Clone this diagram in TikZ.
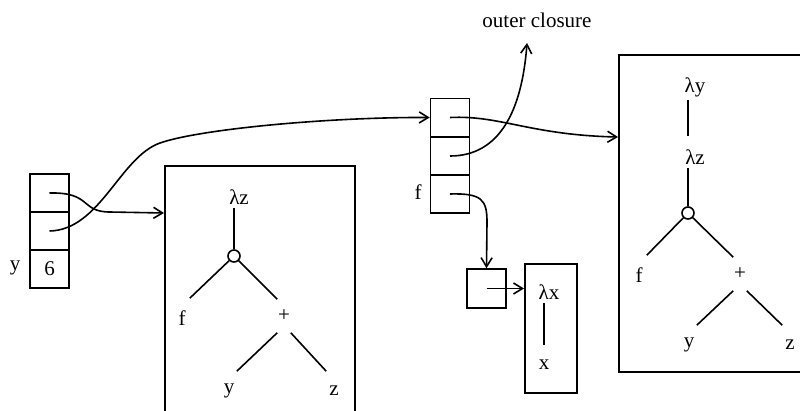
\documentclass[tikz,border=0pt]{standalone}
\usepackage{fontspec}
\setmainfont{Liberation Serif}
\usepackage{tikz}
\usetikzlibrary{arrows.meta}

\begin{document}
\begin{tikzpicture}[x=1pt,y=-1pt,line width=1.6pt,
    every node/.style={font=\fontsize{21}{25}\selectfont},
    >={Straight Barb[length=9pt,width=11pt]},
    cell/.style={draw,minimum width=39pt,minimum height=38pt,inner sep=0pt},
    frame/.style={draw,anchor=north west,inner sep=0pt},
    lab/.style={inner sep=3pt},
    leaf/.style={inner sep=0pt,minimum width=14pt,minimum height=38pt},
    plus/.style={inner sep=0pt,minimum width=12pt,minimum height=32pt},
    joint/.style={circle,draw,minimum size=12pt,inner sep=0pt}]
    \useasboundingbox (0,0) rectangle (800,410);
    \clip (0,0) rectangle (800,410);

    % Draw the records
    \node[cell] (ya) at (49.5,193) {};
    \node[cell] (yb) at (49.5,231) {};
    \node[cell] (yc) at (49.5,269) {6};
    \node (ylab) at (15,268) {y};

    \node[cell] (fa) at (450,117.5) {};
    \node[cell] (fb) at (450,156) {};
    \node[cell] (fc) at (450,194) {};
    \node (flab) at (418,192) {f};

    \node[cell,minimum height=39pt] (xcell) at (486.5,288.5) {};
    \node (outer) at (537,20) {outer closure};

    % Draw the code frames
    \node[frame,minimum width=190pt,minimum height=280pt] (zbox) at (164,165) {};
    \node[frame,minimum width=230pt,minimum height=317pt] (ybox) at (618,54) {};
    \node[frame,minimum width=52pt,minimum height=129pt] (xbox) at (524,263) {};

    \coordinate (zin) at (164,213);
    \coordinate (yin) at (618,137);
    \coordinate (oc) at (527,43);

    % Tree for lambda z
    \node[lab] (zl) at (239,197) {λz};
    \node[joint] (zj) at (234,256) {};
    \node[leaf] (zf) at (182,318) {f};
    \node[plus] (zp) at (284,316) {+};
    \node[leaf] (zy) at (229,391) {y};
    \node[leaf] (zz) at (334,391) {z};
    \draw (zj |- zl.south) -- (zj);
    \draw (zj) -- (zf.north east);
    \draw (zj) -- (zp.north west);
    \draw (zp.south west) -- (zy.north east);
    \draw (zp.south east) -- (zz.north west);

    % Tree for lambda y
    \node[lab] (rl) at (695,87) {λy};
    \node[lab] (rm) at (695,157) {λz};
    \node[joint] (rj) at (688,213) {};
    \node[leaf] (rf) at (639,275) {f};
    \node[plus] (rp) at (740,274) {+};
    \node[leaf] (ry) at (689,345) {y};
    \node[leaf] (rz) at (790,345) {z};
    \draw[shorten >=10pt] (rj |- rl.south) -- (rj |- rm.north);
    \draw (rj |- rm.south) -- (rj);
    \draw (rj) -- (rf.north east);
    \draw (rj) -- (rp.north west);
    \draw (rp.south west) -- (ry.north east);
    \draw (rp.south east) -- (rz.north west);

    % Tree for lambda x
    \node[lab] (xl) at (549,292) {λx};
    \node[leaf] (xx) at (544,365) {x};
    \draw (xx |- xl.south) -- (xx);

    % Pointers
    \draw[->] (ya.center) .. controls (92,192) and (80,212) .. (110,212) -- (zin);
    \draw[->] (yb.center) .. controls (100,230) and (120,157) .. (160,143)
        .. controls (200,129) and (330,117) .. (fa.west);
    \draw[->] (fa.center) .. controls (500,115) and (530,135) .. (yin);
    \draw[->] (fb.center) .. controls (500,156) and (522,110) .. (oc);
    \draw[->] (fc.center) .. controls (482,193) and (487,200) .. (487,222) -- (xcell.north);
    \draw[->] (xcell.center) -- (xcell -| xbox.west);
\end{tikzpicture}
\end{document}
